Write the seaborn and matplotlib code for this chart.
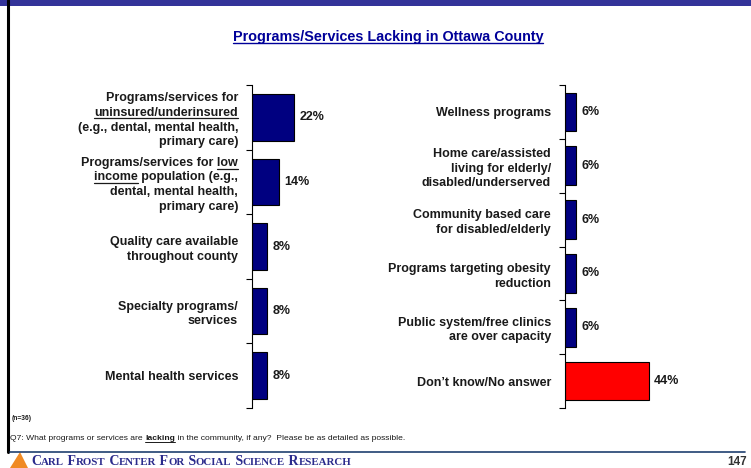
import numpy as np
import pandas as pd
import matplotlib
matplotlib.use("Agg")
import matplotlib.pyplot as plt
from matplotlib import font_manager
from matplotlib.lines import Line2D
from matplotlib.patches import Polygon, Rectangle
import seaborn as sns

# ---- data (brackets mark underlined words) ----
left_labels = [
    "Programs/services for\n[uninsured/underinsured]\n(e.g., dental, mental health,\nprimary care)",
    "Programs/services for [low]\n[income] population (e.g.,\ndental, mental health,\nprimary care)",
    "Quality care available\nthroughout county",
    "Specialty programs/\nservices",
    "Mental health services",
]
left_values = [22, 14, 8, 8, 8]

right_labels = [
    "Wellness programs",
    "Home care/assisted\nliving for elderly/\ndisabled/underserved",
    "Community based care\nfor disabled/elderly",
    "Programs targeting obesity\nreduction",
    "Public system/free clinics\nare over capacity",
    "Don\u2019t know/No answer",
]
right_values = [6, 6, 6, 6, 6, 44]
right_colors = ["#000080"] * 5 + ["#FF0000"]

title = "Programs/Services Lacking in Ottawa County"
sample_note = "(n=36)"
question = ["Q7: What programs or services are ", "lacking",
            " in the community, if any?  Please be as detailed as possible."]
footer_words = ["Carl", "Frost", "Center", "for", "Social", "Science", "Research"]
page_no = "147"

sns.set_theme(style="white")
plt.rcParams["font.family"] = ["Liberation Sans", "DejaVu Sans"]

# narrow font for title / question if it is installed
try:
    font_manager.findfont("Liberation Sans Narrow", fallback_to_default=False)
    HAS_NARROW = True
except Exception:
    HAS_NARROW = False
NARROW = ["Liberation Sans Narrow", "Liberation Sans", "DejaVu Sans"]

W, H = 751, 468
fig = plt.figure(figsize=(W / 100, H / 100), dpi=100)
r = fig.canvas.get_renderer()

NAVY = "#000080"
TXT = "#1a1a1a"


def clean(s):
    return s.replace("[", "").replace("]", "")


def draw_panel(rect, labels, values, colors, xmax):
    ax = fig.add_axes(rect)
    names = [clean(s) for s in labels]
    df = pd.DataFrame({"item": names, "pct": values})
    sns.barplot(data=df, y="item", x="pct", hue="item", palette=colors, saturation=1,
                orient="h", width=0.72, edgecolor="black", linewidth=0.8,
                legend=False, ax=ax, dodge=False)
    for c in ax.containers:
        ax.bar_label(c, fmt="%d%%", padding=4, fontsize=9, fontweight="bold", color=TXT)
    n = len(names)
    ax.set_xlim(0, xmax)
    ax.set_ylim(n - 0.5, -0.5)
    ax.set_yticks(np.arange(n + 1) - 0.5)
    ax.set_yticklabels([])
    ax.set_yticks(np.arange(n), minor=True)
    ax.set_yticklabels(names, minor=True, fontsize=9, fontweight="bold", color=TXT, linespacing=1.3)
    ax.tick_params(axis="y", which="major", direction="out", length=4, width=0.8, color="black", left=True)
    ax.tick_params(axis="y", which="minor", length=0, pad=10)
    ax.set_xticks([])
    ax.set_xlabel("")
    ax.set_ylabel("")
    for sp in ["top", "right", "bottom"]:
        ax.spines[sp].set_visible(False)
    ax.spines["left"].set_color("black")
    ax.spines["left"].set_linewidth(0.8)
    ax.set_facecolor("none")
    return ax


def to_fig(x, y_top):
    # pixel coords measured from the top-left corner -> figure fraction
    return x / W, 1 - y_top / H


def fig_line_disp(x0, x1, y, color, lw=0.8):
    inv = fig.transFigure.inverted()
    (fx0, fy), (fx1, _) = inv.transform([(x0, y), (x1, y)])
    fig.add_artist(Line2D([fx0, fx1], [fy, fy], transform=fig.transFigure, color=color, lw=lw))


def seq_text(x, y_top, parts):
    # place text pieces one after another on one baseline
    out = []
    xd = x
    for s, kw in parts:
        t = fig.text(*to_fig(xd, y_top), s, ha="left", va="baseline", **kw)
        bb = t.get_window_extent(r)
        xd = xd + bb.width
        out.append(t)
    return out


bottom = 1 - 408 / H
height = (408 - 85) / H
axL = draw_panel([252 / W, bottom, 60 * 1.9 / W, height], left_labels, left_values, [NAVY] * 5, 60)
axR = draw_panel([565 / W, bottom, 80 * 1.9 / W, height], right_labels, right_values, right_colors, 80)

# ---- page decorations ----
fig.add_artist(Rectangle((0, 1 - 6 / H), 1, 6 / H, transform=fig.transFigure, color="#333399", lw=0))
fig.add_artist(Line2D([7.5 / W, 7.5 / W], [1 - 452 / H, 1], transform=fig.transFigure, color="black", lw=2.2))

if HAS_NARROW:
    t_title = fig.text(*to_fig(388, 37), title, ha="center", va="center", fontsize=12.5,
                       fontweight="bold", color="#000099", family=NARROW)
else:
    t_title = fig.text(*to_fig(388, 37), title, ha="center", va="center", fontsize=10.4,
                       fontweight="bold", color="#000099")

fig.text(*to_fig(12, 419), sample_note, ha="left", va="center", fontsize=4.8, fontweight="bold", color=TXT)

qkw = dict(fontsize=7 if HAS_NARROW else 6.1, family=NARROW if HAS_NARROW else ["Liberation Sans", "DejaVu Sans"],
           color=TXT)
q_parts = seq_text(10, 440, [(question[0], qkw), (question[1], dict(qkw, fontweight="bold")),
                             (question[2], qkw)])

# footer rule, logo, small-caps name, page number
fig_line_disp(10, 745, H - 452, "#1F3F6F", lw=1.2)
fig.add_artist(Polygon([to_fig(10, 468), to_fig(28, 468), to_fig(20, 452)], closed=True,
                       transform=fig.transFigure, color="#F08A24", lw=0))
serif = ["Liberation Serif", "DejaVu Serif"]
big = dict(fontsize=10, family=serif, fontweight="bold", color="#2B2B8C")
small = dict(fontsize=7.8, family=serif, fontweight="bold", color="#2B2B8C")
footer_parts = []
for k, w in enumerate(footer_words):
    footer_parts.append(((" " if k else "") + w[0].upper(), big))
    footer_parts.append((w[1:].upper(), small))
seq_text(31, 465, footer_parts)
fig.text(*to_fig(747, 465), page_no, ha="right", va="baseline", fontsize=8.5, fontweight="bold", color="#333333")

# ---- underlines ----
fig.canvas.draw()
r = fig.canvas.get_renderer()

bb = t_title.get_window_extent(r)
fig_line_disp(bb.x0, bb.x1, bb.y0 + 0.5, "#000099", lw=1.0)

bb = q_parts[1].get_window_extent(r)
fig_line_disp(bb.x0, bb.x1, bb.y0 + 0.5, TXT, lw=0.7)


def text_w(s, prop):
    return r.get_text_width_height_descent(s, prop, ismath=False)[0]


for ax, labels in [(axL, left_labels), (axR, right_labels)]:
    for tl, raw in zip(ax.get_yticklabels(minor=True), labels):
        if "[" not in raw:
            continue
        prop = tl.get_fontproperties()
        bb = tl.get_window_extent(r)
        lines = raw.split("\n")
        lh = bb.height / len(lines)
        for i, ln in enumerate(lines):
            lw_ = text_w(clean(ln), prop)
            pos = 0
            while "[" in ln[pos:]:
                s = ln.index("[", pos)
                e = ln.index("]", s)
                pre = clean(ln[:s])
                word = ln[s + 1:e]
                xs = bb.x1 - lw_ + (text_w(pre, prop) if pre else 0)
                xe = xs + text_w(word, prop)
                y = bb.y1 - (i + 1) * lh + 2
                fig_line_disp(xs, xe, y, TXT, lw=0.9)
                pos = e + 1

fig.savefig("out.png", dpi=100)
